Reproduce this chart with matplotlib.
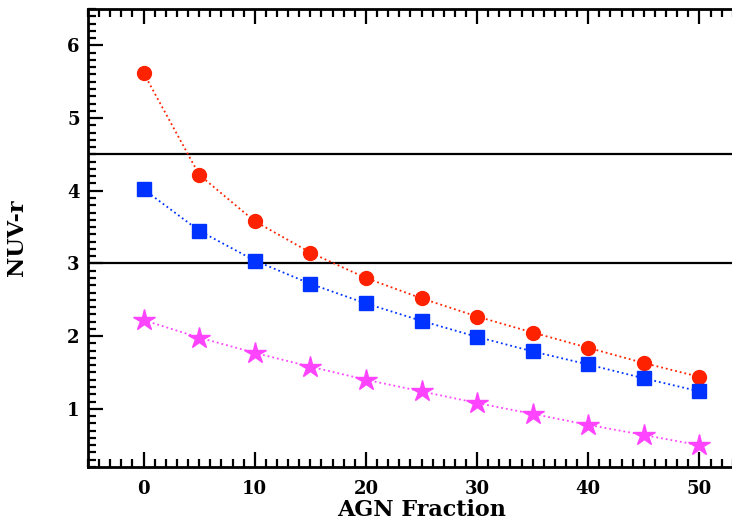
import numpy as np
import matplotlib
matplotlib.use('Agg')
import matplotlib.pyplot as plt
from matplotlib.ticker import MultipleLocator

# AGN fraction (%) and NUV-r colour for the three tracks
agn_frac = [0, 5, 10, 15, 20, 25, 30, 35, 40, 45, 50]
nuv_r_red = [5.62, 4.22, 3.58, 3.15, 2.80, 2.52, 2.27, 2.05, 1.84, 1.63, 1.44]
nuv_r_blue = [4.02, 3.45, 3.04, 2.72, 2.45, 2.21, 1.99, 1.79, 1.61, 1.42, 1.24]
nuv_r_mag = [2.22, 1.98, 1.77, 1.58, 1.40, 1.24, 1.08, 0.93, 0.78, 0.64, 0.50]
hlines = [4.5, 3.0]

plt.rcParams['font.family'] = ['DejaVu Serif']
plt.rcParams['font.weight'] = 'bold'

fig = plt.figure(figsize=(7.32, 5.25), dpi=100)
ax = fig.add_axes([88 / 732, 58 / 525, 667 / 732, 458 / 525])

for y in hlines:
    ax.axhline(y, color='black', lw=1.6, zorder=1)

ax.plot(agn_frac, nuv_r_red, ls=':', lw=1.3, color='#ff2200',
        marker='o', ms=10, mec='#ff2200', mfc='#ff2200', zorder=3)
ax.plot(agn_frac, nuv_r_blue, ls=':', lw=1.3, color='#0033ff',
        marker='s', ms=10.5, mec='#0033ff', mfc='#0033ff', zorder=3)
ax.plot(agn_frac, nuv_r_mag, ls=':', lw=1.3, color='#ff44ff',
        marker='*', ms=16, mec='#ff44ff', mfc='#ff44ff', zorder=3)

ax.set_xlim(-5, 55)
ax.set_ylim(0.2, 6.5)
ax.xaxis.set_major_locator(MultipleLocator(10))
ax.xaxis.set_minor_locator(MultipleLocator(1))
ax.yaxis.set_major_locator(MultipleLocator(1))
ax.yaxis.set_minor_locator(MultipleLocator(0.1))

ax.tick_params(which='both', direction='in', top=True, right=True, width=1.6,
               labelsize=13)
ax.tick_params(which='major', length=11)
ax.tick_params(axis='x', which='major', pad=9)
ax.tick_params(axis='y', which='major', pad=6)
ax.tick_params(which='minor', length=6)
for s in ax.spines.values():
    s.set_linewidth(2)

ax.set_xlabel('AGN Fraction', fontsize=16, fontweight='bold', labelpad=1)
ax.set_ylabel('NUV-r', fontsize=16, fontweight='bold', labelpad=28)

fig.savefig('out.png', dpi=100)
